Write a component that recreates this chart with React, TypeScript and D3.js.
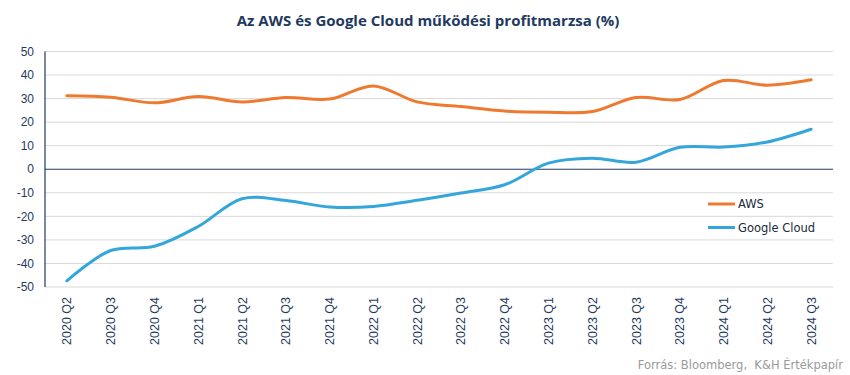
import React from "react";
import * as d3 from "d3";

const categories = [
  "2020 Q2", "2020 Q3", "2020 Q4", "2021 Q1", "2021 Q2", "2021 Q3", "2021 Q4",
  "2022 Q1", "2022 Q2", "2022 Q3", "2022 Q4", "2023 Q1", "2023 Q2", "2023 Q3",
  "2023 Q4", "2024 Q1", "2024 Q2", "2024 Q3",
];
const awsValues = [31.2, 30.6, 28.2, 30.9, 28.6, 30.5, 29.8, 35.4, 28.6, 26.6, 24.7, 24.2, 24.5, 30.5, 29.6, 37.7, 35.7, 38.0];
const googleValues = [-47.4, -34.5, -32.7, -24.3, -12.5, -13.3, -16.0, -15.8, -13.2, -10.1, -6.6, 2.6, 4.7, 3.0, 9.3, 9.4, 11.6, 17.0];
const yTicks = [50, 40, 30, 20, 10, 0, -10, -20, -30, -40, -50];
const seriesNames = ["AWS", "Google Cloud"];
const seriesColors = ["#EE7A30", "#34A6DB"];
const title = "Az AWS és Google Cloud működési profitmarzsa (%)";
const source = "Forrás: Bloomberg,  K&H Értékpapír";

export default function App() {
  const W = 850, H = 375;
  const left = 45, right = 833, top = 51.5, bottom = 287;
  const x = d3.scaleBand<string>().domain(categories).range([left, right]);
  const y = d3.scaleLinear().domain([-50, 50]).range([bottom, top]);
  const cx = (c: string) => (x(c) as number) + x.bandwidth() / 2;
  const line = d3
    .line<number>()
    .x((_, i) => cx(categories[i]))
    .y((d) => y(d))
    .curve(d3.curveCatmullRom.alpha(0.5));
  const series = [awsValues, googleValues];
  const navy = "#1F3A5F";
  return (
    <svg width={W} height={H} style={{ position: "absolute", left: 0, top: 0 }}>
      <rect width={W} height={H} fill="#fff" />
      <text x={428} y={26} textAnchor="middle" fontFamily="'Open Sans', sans-serif" fontWeight="bold" fontSize={15} fill={navy}>
        {title}
      </text>
      {yTicks.map((t) => (
        <g key={t}>
          {t !== 0 && (
            <line x1={left} x2={right} y1={y(t)} y2={y(t)} stroke="#D9D9D9" strokeWidth={1} />
          )}
          <text x={34} y={y(t)} dy="0.35em" textAnchor="end" fontFamily="'Liberation Sans', Arial, sans-serif" fontSize={12} fill={navy}>
            {t}
          </text>
        </g>
      ))}
      <line x1={left} x2={right} y1={y(0)} y2={y(0)} stroke={navy} strokeWidth={1.2} />
      <line x1={left} x2={left} y1={top} y2={bottom} stroke={navy} strokeWidth={1.2} />
      {categories.map((c) => (
        <text
          key={c}
          transform={`translate(${cx(c) + 4.5},297) rotate(-90)`}
          textAnchor="end"
          fontFamily="'Liberation Sans', Arial, sans-serif"
          fontSize={12.5}
          fill={navy}
        >
          {c}
        </text>
      ))}
      {series.map((s, i) => (
        <path key={i} d={line(s) || ""} fill="none" stroke={seriesColors[i]} strokeWidth={3} strokeLinecap="round" />
      ))}
      {seriesNames.map((n, i) => (
        <g key={n}>
          <line x1={708} x2={735} y1={204 + i * 23.5} y2={204 + i * 23.5} stroke={seriesColors[i]} strokeWidth={3} />
          <text x={738} y={204 + i * 23.5} dy="0.35em" fontFamily="'DejaVu Sans', Verdana, sans-serif" fontSize={11.5} fill="#1a2a3a">
            {n}
          </text>
        </g>
      ))}
      <text x={843} y={369} textAnchor="end" fontFamily="'DejaVu Sans', Verdana, sans-serif" fontSize={11.5} fill="#9a9a9a" style={{ whiteSpace: "pre" }}>
        {source}
      </text>
    </svg>
  );
}
